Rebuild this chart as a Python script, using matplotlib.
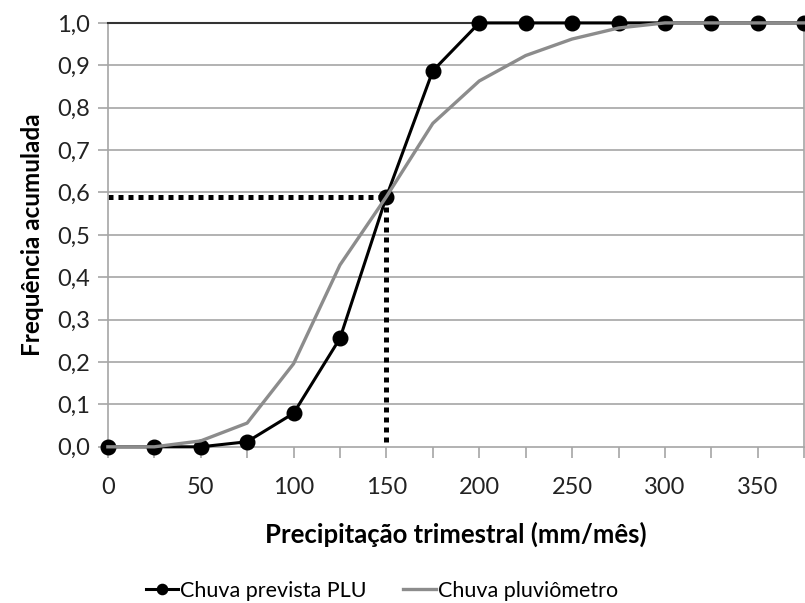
import matplotlib
matplotlib.use("Agg")
import matplotlib.pyplot as plt
from matplotlib.ticker import FixedLocator, FuncFormatter

plt.rcParams['font.family'] = ['Lato', 'DejaVu Sans']

# Precipitation classes (mm/mês)
precip = [0, 25, 50, 75, 100, 125, 150, 175, 200, 225, 250, 275, 300, 325, 350, 375]
# Cumulative frequency, PLU forecast
freq_plu = [0.0, 0.0, 0.0, 0.012, 0.079, 0.256, 0.590, 0.887, 1.0, 1.0, 1.0, 1.0, 1.0, 1.0, 1.0, 1.0]
# Cumulative frequency, rain gauge
freq_pluv = [0.0, 0.0, 0.014, 0.056, 0.196, 0.429, 0.590, 0.763, 0.863, 0.923, 0.962, 0.988, 1.0, 1.0, 1.0, 1.0]

# Reference marker at the crossing point
ref_x = 150
ref_y = 0.59

fig = plt.figure(figsize=(8.05, 6.03), dpi=100)
ax = fig.add_axes([0.134, 0.259, 0.865, 0.703])

grid_c = '#a6a6a6'
for v in [i / 10 for i in range(1, 10)]:
    ax.axhline(v, color=grid_c, lw=1.2, zorder=1)

# Dotted guide lines
ax.plot([precip[0], ref_x], [ref_y, ref_y], color='black', lw=3.6,
        dashes=(1, 1), dash_capstyle='butt', zorder=2)
ax.plot([ref_x, ref_x], [ref_y, 0.008], color='black', lw=3.6,
        dashes=(1, 1), dash_capstyle='butt', zorder=2)

l1, = ax.plot(precip, freq_plu, color='black', lw=2.2, marker='o', ms=10.5,
              label='Chuva prevista PLU', zorder=3, clip_on=False)
l2, = ax.plot(precip, freq_pluv, color='#8c8c8c', lw=2.4,
              label='Chuva pluviômetro', zorder=4, clip_on=False)

ax.set_xlim(0, 375)
ax.set_ylim(0, 1)

ax.xaxis.set_major_locator(FixedLocator(precip))
ax.xaxis.set_major_formatter(FuncFormatter(lambda v, p: f"{int(v)}" if int(v) % 50 == 0 else ""))
ax.yaxis.set_major_locator(FixedLocator([i / 10 for i in range(11)]))
ax.yaxis.set_major_formatter(FuncFormatter(lambda v, p: f"{v:.1f}".replace('.', ',')))

ax.tick_params(axis='x', length=8, width=1.2, color=grid_c, pad=14, labelsize=17, labelcolor='#222222')
ax.tick_params(axis='y', length=7, width=1.2, color=grid_c, pad=6, labelsize=17, labelcolor='#222222')

for side in ['left', 'bottom', 'right']:
    ax.spines[side].set_color(grid_c)
    ax.spines[side].set_linewidth(1.2)
ax.spines['top'].set_color('#333333')
ax.spines['top'].set_linewidth(1.5)

ax.set_xlabel('Precipitação trimestral (mm/mês)', fontsize=18.5, fontweight='bold', labelpad=17)
ax.set_ylabel('Frequência acumulada', fontsize=17.5, fontweight='bold', labelpad=9)

fig.legend(handles=[l1, l2], loc='center', bbox_to_anchor=(0.4745, 0.02),
           ncol=2, frameon=False, fontsize=15.5, handlelength=1.5, handletextpad=0.1,
           columnspacing=1.7, markerscale=0.7)

fig.savefig('out.png', dpi=100)
